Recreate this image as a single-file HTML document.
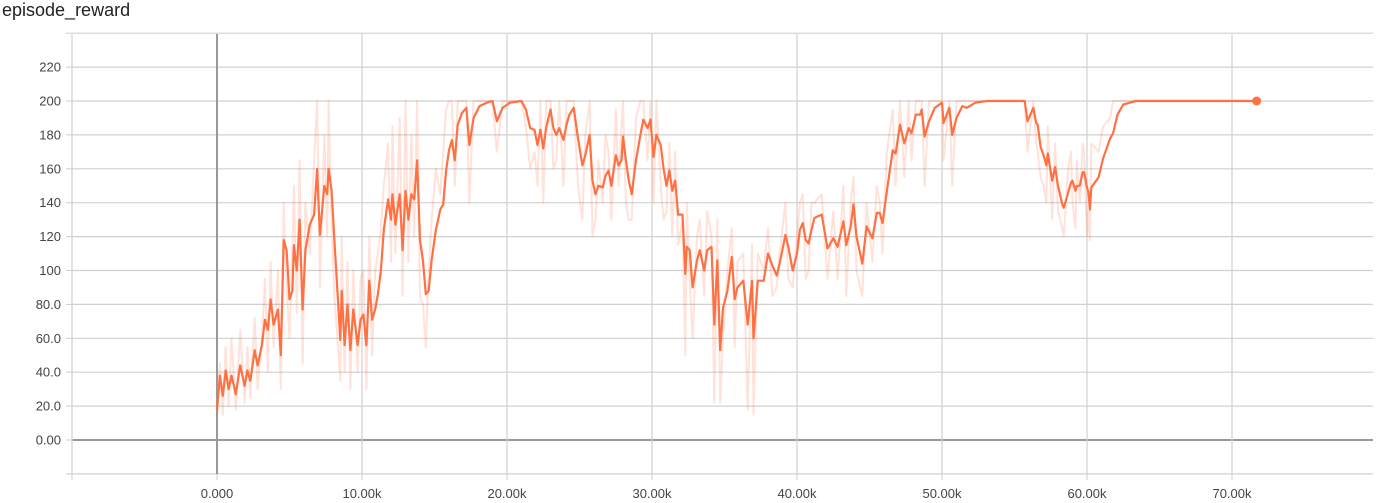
<!DOCTYPE html>
<html><head><meta charset="utf-8"><style>
html,body{margin:0;padding:0;background:#fff;}
body{width:1382px;height:503px;overflow:hidden;font-family:"Liberation Sans",sans-serif;}
#title{position:absolute;left:2px;top:0px;font-size:18px;color:#222;}
svg{position:absolute;left:0;top:0;}
text{font-family:"Liberation Sans",sans-serif;font-size:13px;fill:#444;}
</style></head><body>
<div id="title">episode_reward</div>
<svg id="chart" width="1382" height="503"></svg>
<script>
const yTicks=[0,20,40,60,80,100,120,140,160,180,200,220];
const yTickLabels=["0.00","20.0","40.0","60.0","80.0","100","120","140","160","180","200","220"];
const xTicks=[0,10,20,30,40,50,60,70];
const xTickLabels=["0.000","10.00k","20.00k","30.00k","40.00k","50.00k","60.00k","70.00k"];
const steps=[0,0.2,0.4,0.6,0.8,1.0,1.3,1.6,1.9,2.1,2.3,2.6,2.8,3.1,3.3,3.5,3.7,3.9,4.2,4.4,4.6,4.8,5.0,5.2,5.3,5.5,5.7,5.9,6.1,6.4,6.7,6.9,7.1,7.4,7.6,7.7,7.9,8.1,8.3,8.5,8.6,8.8,9.0,9.2,9.4,9.7,9.9,10.1,10.3,10.5,10.7,10.9,11.1,11.3,11.5,11.8,12.0,12.1,12.3,12.6,12.8,13.0,13.2,13.4,13.6,13.8,14.0,14.2,14.4,14.6,14.8,15.1,15.4,15.6,15.8,16.0,16.2,16.4,16.6,16.9,17.2,17.4,17.7,18.1,18.6,19.0,19.3,19.7,20.2,21.0,21.3,21.6,21.9,22.1,22.3,22.5,22.7,23.0,23.2,23.4,23.6,23.9,24.1,24.3,24.6,24.9,25.2,25.4,25.7,25.9,26.1,26.3,26.6,26.8,27.0,27.2,27.5,27.7,27.9,28.0,28.2,28.4,28.6,28.9,29.2,29.4,29.7,29.9,30.1,30.3,30.6,30.8,31.0,31.2,31.4,31.6,31.8,32.1,32.3,32.4,32.6,32.8,33.1,33.3,33.6,33.8,34.1,34.3,34.5,34.7,34.9,35.2,35.5,35.7,35.9,36.3,36.6,36.9,37.0,37.3,37.7,38.0,38.3,38.6,38.8,39.2,39.4,39.7,40.0,40.2,40.4,40.6,40.8,41.0,41.2,41.7,42.1,42.5,42.8,43.2,43.4,43.7,43.9,44.1,44.5,44.8,45.2,45.5,45.7,45.9,46.2,46.6,46.8,47.1,47.4,47.7,47.9,48.2,48.5,48.6,48.8,49.1,49.5,50.0,50.1,50.5,50.7,51.0,51.4,51.7,52.3,53.1,55.7,55.9,56.3,56.5,56.6,56.8,57.0,57.2,57.3,57.6,57.8,58.0,58.3,58.4,58.7,58.9,59.0,59.2,59.3,59.5,59.7,59.8,60.0,60.1,60.2,60.3,60.8,61.1,61.6,61.8,62.1,62.5,63.4,71.7];
const smoothed=[18,38,26,41,30,38,27,44,32,41,35,53,44,56,71,65,83,68,77,50,118,112,83,88,115,100,130,77,112,127,133,160,121,150,145,160,147,118,88,59,88,56,80,53,77,56,71,74,56,94,71,77,86,100,124,142,130,145,127,145,112,147,130,145,142,165,118,106,86,88,106,124,136,139,159,171,177,165,186,193,196,174,190,197,199,200,188,196,199,200,195,184,183,174,183,172,184,195,184,180,184,177,186,192,196,178,162,168,180,153,145,150,149,156,159,150,168,162,165,179,165,153,145,165,180,189,184,189,167,180,174,160,150,159,147,153,133,133,98,114,112,90,106,112,100,112,114,68,106,53,78,88,108,83,90,94,68,94,60,94,94,110,103,97,104,121,114,100,110,124,128,118,116,124,131,133,113,119,114,129,115,126,139,120,104,126,119,134,134,128,147,171,169,186,175,184,181,192,192,195,179,188,196,199,187,196,180,190,197,196,199,200,200,188,196,187,186,173,168,162,169,153,161,150,139,137,146,152,153,147,150,150,158,158,149,146,136,149,155,166,178,181,192,198,200,200];
const raw=[12,45,15,55,20,60,18,65,22,55,25,72,30,60,95,40,105,55,100,30,140,90,60,110,150,75,165,45,140,110,165,200,90,180,120,200,130,85,60,35,120,40,105,30,100,40,95,100,30,120,50,100,110,125,150,175,105,185,110,190,85,200,105,180,120,200,85,80,55,100,130,160,145,170,195,200,200,150,200,200,200,140,200,200,200,200,170,200,200,200,185,160,170,150,200,140,200,200,160,165,200,150,200,200,200,150,130,180,200,120,130,165,140,180,170,130,195,150,185,200,140,130,130,190,200,200,165,200,140,200,150,130,135,175,120,170,115,130,50,140,95,60,120,130,85,135,120,22,130,22,60,100,125,55,105,110,18,115,15,110,100,125,85,90,110,140,95,90,120,140,145,95,100,140,140,145,95,135,95,150,85,140,155,100,85,140,105,150,140,110,170,195,150,200,155,200,165,200,200,200,150,200,200,200,165,200,150,200,200,200,200,200,200,170,200,175,170,155,150,140,185,130,175,135,125,120,160,170,140,125,165,140,175,170,120,135,118,175,170,185,190,200,200,200,200,200];
const svg=document.getElementById('chart');
const NS='http://www.w3.org/2000/svg';
const X0=217,XS=14.5,Y0=440,YS=1.695;
function sx(k){return X0+k*XS;}
function sy(v){return Y0-v*YS;}
function mk(tag,attrs){const e=document.createElementNS(NS,tag);for(const a in attrs)e.setAttribute(a,attrs[a]);svg.appendChild(e);return e;}
for(let v=-20;v<=240;v+=20){
  const g=mk('line',{x1:72,x2:1373,y1:sy(v),y2:sy(v),stroke:v===0?'#999':'#d0d0d0','stroke-width':v===0?2:1.2});
  
  
  const t=mk('line',{x1:66,x2:72,y1:sy(v),y2:sy(v),stroke:'#ccc','stroke-width':1});
  
  
}
yTicks.forEach((v,i)=>{
  const t=mk('text',{x:61,y:sy(v)+4.5,'text-anchor':'end'});t.textContent=yTickLabels[i];
  
  
});
for(let k=-10;k<=80;k+=10){
  const x=sx(k);if(x>1374)continue;
  const g=mk('line',{x1:x,x2:x,y1:34,y2:474,stroke:k===0?'#999':'#d0d0d0','stroke-width':k===0?2:1.2});
  
  
  const t=mk('line',{x1:x,x2:x,y1:474,y2:480,stroke:'#ccc','stroke-width':1});
  
  
}
xTicks.forEach((k,i)=>{
  const t=mk('text',{x:sx(k),y:498,'text-anchor':'middle'});t.textContent=xTickLabels[i];
  
  
});
function path(arr){return arr.map((v,i)=>(i?'L':'M')+sx(steps[i]).toFixed(1)+','+sy(v).toFixed(1)).join('');}
const rp=mk('path',{d:path(raw),fill:'none',stroke:'#ff7043','stroke-opacity':0.2,'stroke-width':2,'stroke-linejoin':'round'});


const sp=mk('path',{d:path(smoothed),fill:'none',stroke:'#ff7043','stroke-width':2.2,'stroke-linejoin':'round'});


const n=steps.length-1;
const dot=mk('circle',{cx:sx(steps[n]),cy:sy(smoothed[n]),r:4.5,fill:'#ff7043'});


</script>
</body></html>
